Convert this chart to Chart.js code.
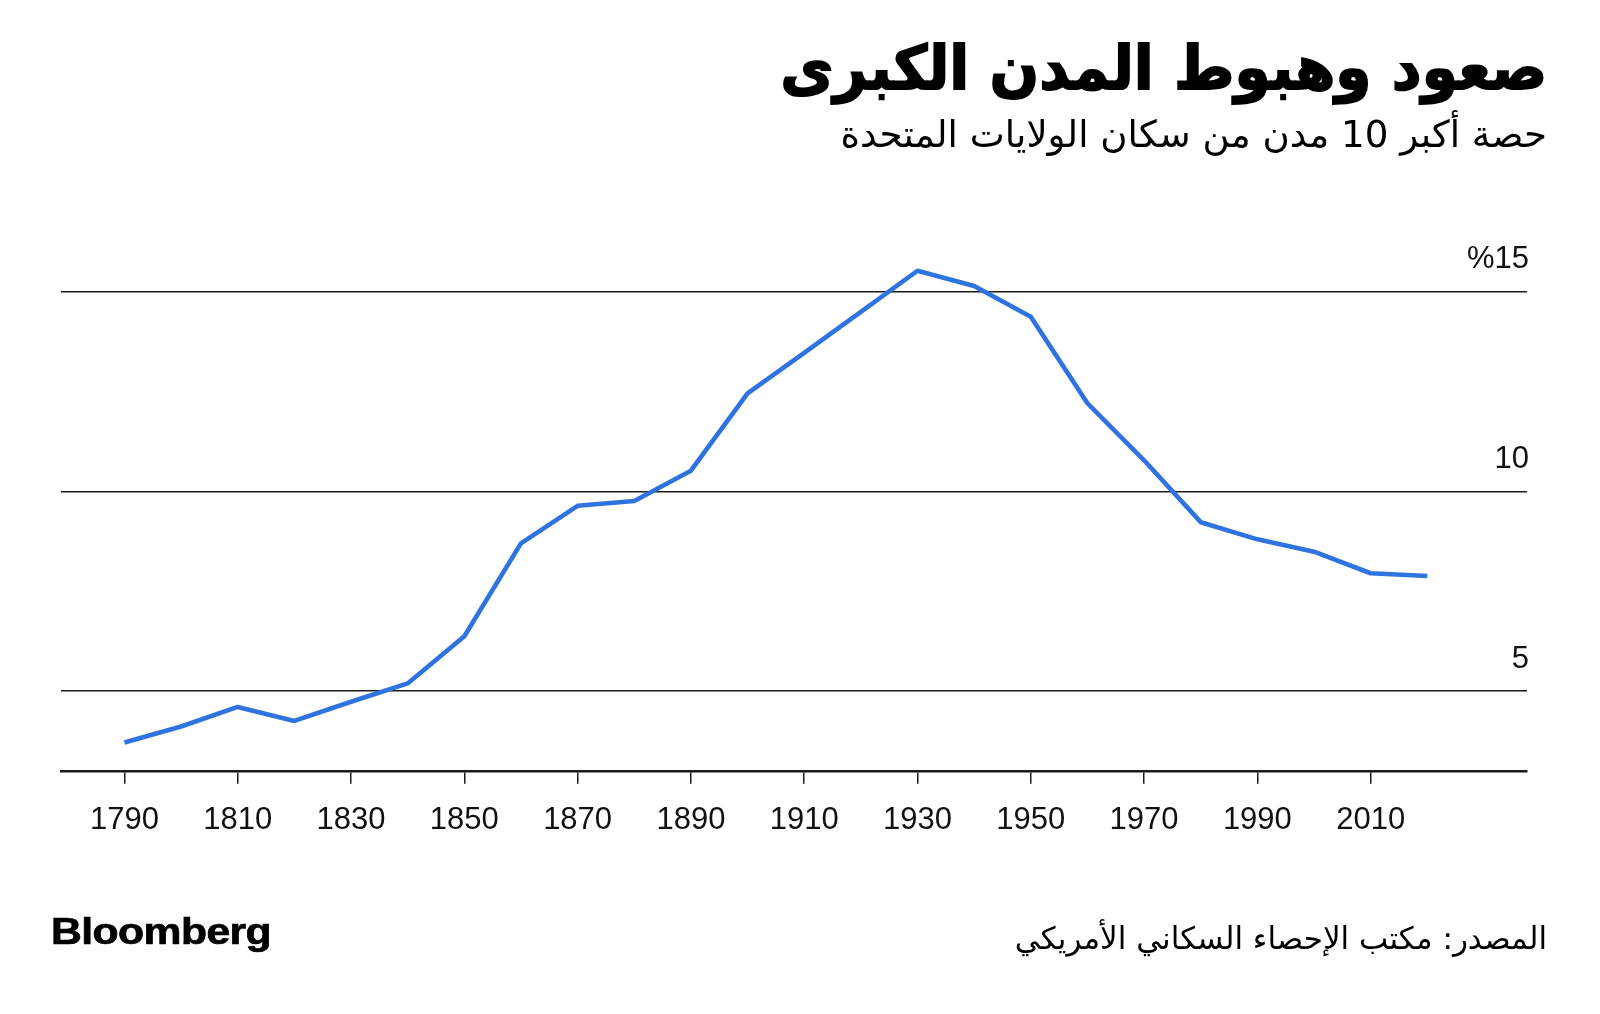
<!DOCTYPE html>
<html><head><meta charset="utf-8">
<script src="https://cdn.jsdelivr.net/npm/chart.js@4.4.0/dist/chart.umd.min.js"></script>
<style>
html,body{margin:0;padding:0;background:#fff;width:1600px;height:1014px;overflow:hidden;}
#wrap{position:relative;width:1600px;height:1014px;}
#c{position:absolute;left:0;top:0;}
.t{position:absolute;direction:rtl;white-space:nowrap;color:#000;line-height:1;}
#title{right:53px;top:37px;font-family:"DejaVu Sans";font-weight:bold;font-size:61px;-webkit-text-stroke:1.8px #000;transform:scaleX(0.955);transform-origin:right top;}
#subtitle{right:53px;top:116px;font-family:"DejaVu Sans";font-size:37.2px;}
#source{right:53px;top:923px;font-family:"DejaVu Sans";font-size:31px;}
#logo{position:absolute;left:51px;top:914px;font-family:"Liberation Sans";font-weight:bold;font-size:36.5px;line-height:1;letter-spacing:-0.5px;transform:scaleX(1.17);transform-origin:left top;-webkit-text-stroke:0.7px #000;}
</style></head>
<body><div id="wrap">
<canvas id="c" width="1600" height="1014"></canvas>
<div class="t" id="title">صعود وهبوط المدن الكبرى</div>
<div class="t" id="subtitle">حصة أكبر 10 مدن من سكان الولايات المتحدة</div>
<div class="t" id="source">المصدر: مكتب الإحصاء السكاني الأمريكي</div>
<div id="logo">Bloomberg</div>
</div>
<script>
const years = [1790,1800,1810,1820,1830,1840,1850,1860,1870,1880,1890,1900,1910,1920,1930,1940,1950,1960,1970,1980,1990,2000,2010,2020];
const shares = [3.71,4.11,4.60,4.25,4.73,5.19,6.37,8.70,9.64,9.76,10.52,12.46,13.47,14.50,15.53,15.15,14.38,12.21,10.78,9.23,8.80,8.49,7.95,7.88];
const xTickValues = [1790,1810,1830,1850,1870,1890,1910,1930,1950,1970,1990,2010];
const xTickLabels = ['1790','1810','1830','1850','1870','1890','1910','1930','1950','1970','1990','2010'];
const yTickValues = [5,10,15];
const yTickLabels = ['5','10','%15'];

const ctx = document.getElementById('c').getContext('2d');
new Chart(ctx, {
  type: 'line',
  data: {
    datasets: [{
      data: years.map((y, i) => ({x: y, y: shares[i]})),
      borderColor: '#2e73df',
      borderWidth: 4.6,
      pointRadius: 0,
      tension: 0,
      fill: false,
      borderJoinStyle: 'round',
      borderCapStyle: 'butt'
    }]
  },
  options: {
    responsive: false,
    animation: false,
    devicePixelRatio: 1,
    layout: {padding: {left: 61, right: 69, top: 252, bottom: 157}},
    plugins: {legend: {display: false}, tooltip: {enabled: false}, title: {display: false}},
    scales: {
      x: {
        type: 'linear', min: 1778.8, max: 2037.6,
        afterBuildTicks: s => { s.ticks = xTickValues.map(v => ({value: v})); },
        ticks: {
          callback: (v) => xTickLabels[xTickValues.indexOf(v)],
          font: {family: 'Liberation Sans', size: 31},
          color: '#111', padding: 18, maxRotation: 0, autoSkip: false
        },
        grid: {drawOnChartArea: false, drawTicks: true, tickLength: 13, color: '#1a1a1a', lineWidth: 1.5},
        border: {display: true, color: '#1a1a1a', width: 2.5}
      },
      y: {
        position: 'right', min: 3, max: 16,
        afterBuildTicks: s => { s.ticks = yTickValues.map(v => ({value: v})); },
        ticks: {
          mirror: true, padding: 2, labelOffset: -32,
          callback: (v) => yTickLabels[yTickValues.indexOf(v)],
          font: {family: 'Liberation Sans', size: 31},
          color: '#111'
        },
        grid: {drawTicks: false, color: '#1a1a1a', lineWidth: 1.5},
        border: {display: false}
      }
    }
  }
});
</script>
</body></html>
